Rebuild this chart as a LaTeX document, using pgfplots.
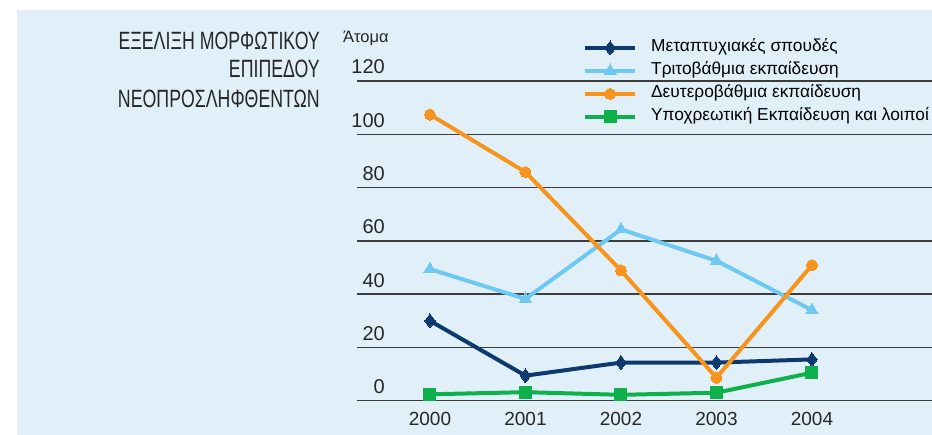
\documentclass[border=0pt]{standalone}
\usepackage{fontspec}
\setmainfont{Liberation Sans}
\newfontfamily\condfont[FakeStretch=0.71]{Liberation Sans}
\usepackage{pgfplots}
\pgfplotsset{compat=1.18}
\definecolor{bg}{HTML}{E1F0F8}
\definecolor{dblue}{HTML}{0D3A6E}
\definecolor{lblue}{HTML}{6DC8F2}
\definecolor{orng}{HTML}{F7941D}
\definecolor{grn}{HTML}{0DB04B}
\definecolor{gridc}{HTML}{3C3C3C}
\begin{document}
\begin{tikzpicture}[x=1pt,y=1pt]
\useasboundingbox (0,0) rectangle (932,435);
\fill[bg] (17,0) rectangle (932,425);
\node[anchor=base east, inner sep=0, font=\condfont\fontsize{25}{29}\selectfont, color=black!85] at (320,385) {ΕΞΕΛΙΞΗ ΜΟΡΦΩΤΙΚΟΥ};
\node[anchor=base east, inner sep=0, font=\condfont\fontsize{25}{29}\selectfont, color=black!85] at (320,357) {ΕΠΙΠΕΔΟΥ};
\node[anchor=base east, inner sep=0, font=\condfont\fontsize{25}{29}\selectfont, color=black!85] at (320,327) {ΝΕΟΠΡΟΣΛΗΦΘΕΝΤΩΝ};
\node[anchor=base west, inner sep=0, font=\fontsize{16.5}{18}\selectfont, color=black!85] at (343,392) {Άτομα};
\begin{axis}[
  at={(357pt,34.3pt)}, anchor=south west,
  scale only axis, width=575pt, height=319.7pt,
  xmin=-0.764, xmax=5.257, ymin=0, ymax=120,
  axis line style={draw=none},
  tick style={draw=none},
  ytick={0,20,40,60,80,100,120},
  xtick={0,1,2,3,4},
  xticklabels={2000,2001,2002,2003,2004},
  ymajorgrids,
  grid style={gridc, line width=1.4pt},
  /pgf/number format/assume math mode=true,
  yticklabel style={anchor=base east, inner sep=0pt, xshift=28pt, yshift=7pt, font=\fontsize{20}{22}\selectfont, color=black!85},
  xticklabel style={anchor=base, inner sep=0pt, yshift=-25pt, font=\fontsize{19}{22}\selectfont, color=black!85},
  clip=false,
  every axis plot/.append style={line width=4pt},
  legend image code/.code={\draw[mark repeat=2,mark phase=2] plot coordinates {(0pt,0pt) (25pt,0pt) (50pt,0pt)};},
  legend style={at={(0.393,1.129)}, anchor=north west, draw=none, fill=none, inner sep=0pt,
    nodes={inner sep=0pt, text height=12pt, text depth=4pt},
    row sep=7pt, column sep=14pt, font=\fontsize{17.3}{19}\selectfont},
  legend cell align=left,
]
\addplot[dblue, mark=diamond*, mark size=7pt, mark options={solid, line width=0pt}] coordinates {(0,30) (1,9.4) (2,14.3) (3,14.3) (4,15.5)};
\addlegendentry{Μεταπτυχιακές σπουδές}
\addplot[lblue, mark=triangle*, mark size=7pt, mark options={solid, line width=0pt}] coordinates {(0,49.4) (1,38.2) (2,64.3) (3,52.5) (4,34)};
\addlegendentry{Τριτοβάθμια εκπαίδευση}
\addplot[orng, mark=*, mark size=5.5pt, mark options={solid, line width=0pt}] coordinates {(0,107.4) (1,85.8) (2,48.9) (3,8.6) (4,50.9)};
\addlegendentry{Δευτεροβάθμια εκπαίδευση}
\addplot[grn, mark=square*, mark size=6pt, mark options={solid, line width=0pt}] coordinates {(0,2.4) (1,3.2) (2,2.2) (3,3) (4,10.5)};
\addlegendentry{Υποχρεωτική Εκπαίδευση και λοιποί}
\end{axis}
\end{tikzpicture}
\end{document}
